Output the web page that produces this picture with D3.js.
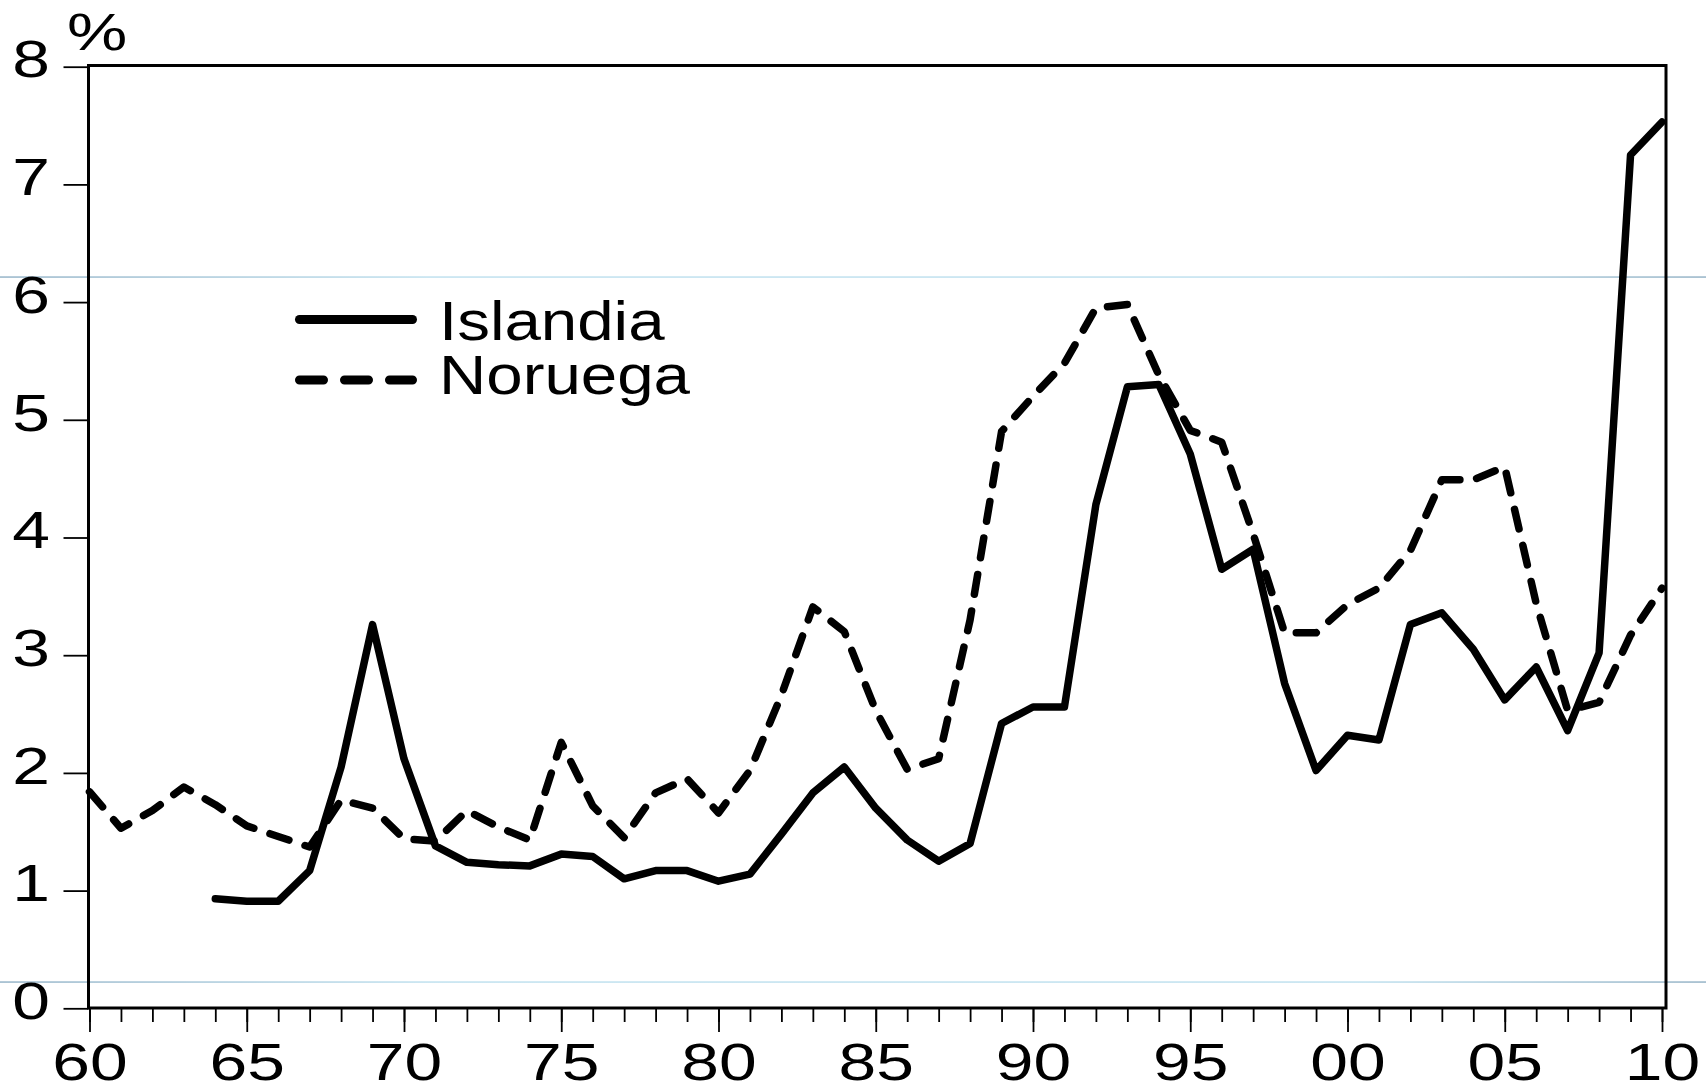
<!DOCTYPE html>
<html>
<head>
<meta charset="utf-8">
<script src="https://cdn.jsdelivr.net/npm/d3@7"></script>
<style>
  body { margin: 0; background: #fff; }
  svg { display: block; }
  text { font-family: "Liberation Sans", Arial, sans-serif; fill: #000; }
</style>
</head>
<body>
<div id="vis"></div>
<script>

// desempleo de larga duracion, %
const islandiaYears = d3.range(1964, 2011)
const islandia = [0.93,0.91,0.91,1.17,2.05,3.26,2.12,1.38,1.24,1.22,
    1.21,1.31,1.29,1.10,1.17,1.17,1.08,1.14,1.48,1.83,
    2.05,1.70,1.43,1.25,1.40,2.42,2.56,2.56,4.28,5.28,
    5.30,4.71,3.73,3.90,2.76,2.02,2.32,2.28,3.26,3.36,
    3.05,2.62,2.90,2.36,3.02,7.25,7.53]

const noruegaYears = d3.range(1960, 2011)
const noruega = [1.84,1.53,1.68,1.88,1.73,1.55,1.46,1.37,1.77,1.70,
    1.44,1.42,1.68,1.54,1.43,2.26,1.72,1.45,1.83,1.95,
    1.66,2.02,2.66,3.41,3.20,2.53,2.03,2.12,3.30,4.90,
    5.20,5.48,5.95,5.98,5.38,4.91,4.81,4.03,3.19,3.19,
    3.43,3.57,3.89,4.49,4.49,4.60,3.44,2.53,2.60,3.17,3.57]

const seriesNames = ["Islandia", "Noruega"]
const yTicks = [0,1,2,3,4,5,6,7,8]
const xMajor = d3.range(1960, 2011, 5)
const xMinor = d3.range(1960, 2011)
const yearLabel = y => String(y % 100).padStart(2, "0")

const W = 1706, H = 1086
const frame = {left: 88.5, right: 1666, top: 65.5, bottom: 1008}
const stretch = 1.33  // el grafico original esta estirado en horizontal

const svg = d3.select("#vis").append("svg").attr("width", W).attr("height", H)

// lineas guia celestes que cruzan toda la imagen
const grad = svg.append("defs").append("linearGradient").attr("id", "guide")
grad.append("stop").attr("offset", "0%").attr("stop-color", "#86a9c0")
grad.append("stop").attr("offset", "25%").attr("stop-color", "#b6dcec")
grad.append("stop").attr("offset", "80%").attr("stop-color", "#b6dcec")
grad.append("stop").attr("offset", "100%").attr("stop-color", "#86a8be")
;[277, 982].forEach(gy => {
    svg.append("rect").attr("x", 0).attr("y", gy - 0.6).attr("width", W).attr("height", 1.3)
        .attr("fill", "url(#guide)")
})

const x = d3.scaleLinear().domain([1960, 2010]).range([89.5, 1662])
const y = d3.scaleLinear().domain([0, 8]).range([1008.3, 66.7])

// marco
svg.append("rect")
    .attr("x", frame.left).attr("y", frame.top)
    .attr("width", frame.right - frame.left).attr("height", frame.bottom - frame.top)
    .attr("fill", "none").attr("stroke", "#000").attr("stroke-width", 3)

// eje x: ticks menores y mayores
const gMinor = svg.append("g").attr("transform", `translate(0,${frame.bottom})`)
    .call(d3.axisBottom(x).tickValues(xMinor).tickSize(14).tickFormat(""))
const gMajor = svg.append("g").attr("transform", `translate(0,${frame.bottom})`)
    .call(d3.axisBottom(x).tickValues(xMajor).tickSize(24).tickFormat(yearLabel))
;[gMinor, gMajor].forEach(g => {
    g.select(".domain").remove()
    g.selectAll("line").attr("stroke", "#000").attr("stroke-width", 1.8)
})
gMajor.selectAll("text")
    .attr("y", 72.5).attr("dy", 0)
    .attr("transform", `scale(${stretch},1)`)
    .style("font-size", "51px")

// eje y
const gy = svg.append("g").attr("transform", `translate(${frame.left},0)`)
    .call(d3.axisLeft(y).tickValues(yTicks).tickSize(25))
gy.select(".domain").remove()
gy.selectAll("line").attr("stroke", "#000").attr("stroke-width", 1.8)
gy.selectAll("text")
    .attr("x", 0).attr("dy", "0.2em")
    .attr("transform", `translate(-38.5,0) scale(${stretch},1)`)
    .style("font-size", "51px")

svg.append("text")
    .attr("transform", `translate(67,50) scale(${stretch},1)`)
    .style("font-size", "51px")
    .text("%")

// series
const line = d3.line().x(d => x(d[0])).y(d => y(d[1]))

svg.append("path")
    .datum(noruegaYears.map((yr, i) => [yr, noruega[i]]))
    .attr("d", line)
    .attr("fill", "none").attr("stroke", "#000").attr("stroke-width", 7.5)
    .attr("stroke-dasharray", "20,17")
    .attr("stroke-linecap", "round").attr("stroke-linejoin", "round")

svg.append("path")
    .datum(islandiaYears.map((yr, i) => [yr, islandia[i]]))
    .attr("d", line)
    .attr("fill", "none").attr("stroke", "#000").attr("stroke-width", 7.5)
    .attr("stroke-linecap", "round").attr("stroke-linejoin", "round")

// leyenda
const legend = svg.append("g")
const legendRows = [
    {name: seriesNames[0], dash: null, ly: 319.5, ty: 339.5},
    {name: seriesNames[1], dash: "24,21", ly: 380, ty: 394}
]
legendRows.forEach(r => {
    legend.append("line")
        .attr("x1", 299.5).attr("x2", 412.5).attr("y1", r.ly).attr("y2", r.ly)
        .attr("stroke", "#000").attr("stroke-width", 9)
        .attr("stroke-linecap", "round")
        .attr("stroke-dasharray", r.dash)
    legend.append("text")
        .attr("transform", `translate(439,${r.ty}) scale(1.19,1)`)
        .style("font-size", "55px")
        .text(r.name)
})

</script>
</body>
</html>
